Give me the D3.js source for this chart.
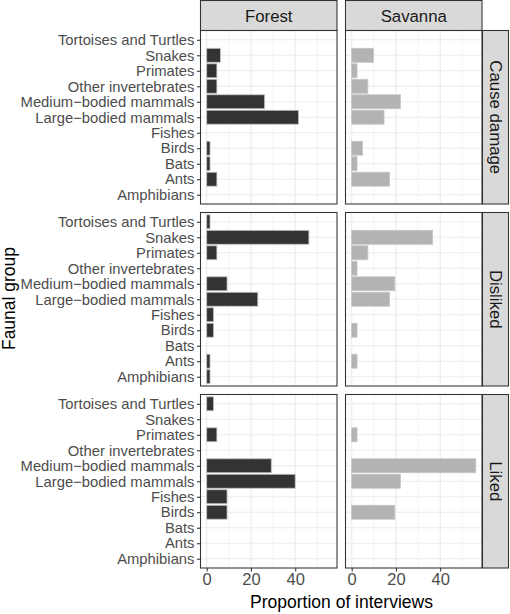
<!DOCTYPE html>
<html><head><meta charset="utf-8">
<script src="https://cdn.jsdelivr.net/npm/d3@7"></script>
<style>body{margin:0;background:#fff}svg{display:block}text{font-family:"Liberation Sans",Arial,sans-serif}</style>
</head><body><svg id="c" width="510" height="614"></svg>
<script>
const categories = ["Tortoises and Turtles","Snakes","Primates","Other invertebrates","Medium\u2212bodied mammals","Large\u2212bodied mammals","Fishes","Birds","Bats","Ants","Amphibians"];
const habitats = ["Forest","Savanna"];
const attitudes = ["Cause damage","Disliked","Liked"];
const xTicks = [0,20,40];
// values in category order above (percent of interviews)
const forestCause   = [0, 6.2, 4.6, 4.6, 26.2, 41.5, 0, 1.5, 1.5, 4.6, 0];
const savannaCause  = [0, 9.8, 2.4, 7.3, 22.0, 14.6, 0, 4.9, 2.4, 17.1, 0];
const forestDislike = [1.5, 46.2, 4.6, 0, 9.2, 23.1, 3.1, 3.1, 0, 1.5, 1.5];
const savannaDislike= [0, 36.6, 7.3, 2.4, 19.5, 17.1, 0, 2.4, 0, 2.4, 0];
const forestLiked   = [3.1, 0, 4.6, 0, 29.2, 40.0, 9.2, 9.2, 0, 0, 0];
const savannaLiked  = [0, 0, 2.4, 0, 56.1, 22.0, 0, 19.5, 0, 0, 0];

const panelData = {
  "Cause damage": {Forest: forestCause, Savanna: savannaCause},
  "Disliked": {Forest: forestDislike, Savanna: savannaDislike},
  "Liked": {Forest: forestLiked, Savanna: savannaLiked}
};
const fills = {Forest:"#333333", Savanna:"#b3b3b3"};

const svg = d3.select("#c");
const colX = {Forest:[200.5,337], Savanna:[345.5,482]};
const rowTop = [30.5, 212.5, 394.5], panelH = 173.5;
const maxV = d3.max(Object.values(panelData).flatMap(o=>[...o.Forest,...o.Savanna]));
const ex = maxV*0.05;

// top strips
habitats.forEach(h=>{
  const [x0,x1]=colX[h];
  svg.append("rect").attr("x",x0).attr("y",0.5).attr("width",x1-x0).attr("height",30)
    .attr("fill","#d9d9d9").attr("stroke","#333333").attr("stroke-width",1.07);
  svg.append("text").attr("x",(x0+x1)/2).attr("y",21.5).attr("text-anchor","middle")
    .attr("font-size",16.8).attr("fill","#1a1a1a").text(h);
});

attitudes.forEach((a,ri)=>{
  const top=rowTop[ri], bot=top+panelH;
  const y = d3.scalePoint().domain(categories).range([top,bot]).padding(0.6);
  const bh = y.step()*0.9;
  habitats.forEach((h,ci)=>{
    const [x0,x1]=colX[h];
    const x = d3.scaleLinear().domain([-ex, maxV+ex]).range([x0,x1]);
    const g = svg.append("g");
    // minor grid
    [10,30,50].forEach(v=>g.append("line").attr("x1",x(v)).attr("x2",x(v)).attr("y1",top).attr("y2",bot)
      .attr("stroke","#ebebeb").attr("stroke-width",0.55));
    xTicks.forEach(v=>g.append("line").attr("x1",x(v)).attr("x2",x(v)).attr("y1",top).attr("y2",bot)
      .attr("stroke","#ebebeb").attr("stroke-width",1.07));
    categories.forEach(c=>g.append("line").attr("x1",x0).attr("x2",x1).attr("y1",y(c)).attr("y2",y(c))
      .attr("stroke","#ebebeb").attr("stroke-width",1.07));
    const vals = panelData[a][h];
    g.selectAll("rect.bar").data(categories.map((c,i)=>({c,v:vals[i]})).filter(d=>d.v>0))
      .join("rect").attr("class","bar")
      .attr("x",x(0)).attr("y",d=>y(d.c)-bh/2)
      .attr("width",d=>x(d.v)-x(0)).attr("height",bh)
      .attr("fill",fills[h]).attr("stroke","#c4c4c4").attr("stroke-width",0.8);
    g.append("rect").attr("x",x0).attr("y",top).attr("width",x1-x0).attr("height",panelH)
      .attr("fill","none").attr("stroke","#333333").attr("stroke-width",1.07);
    if(ci===0){
      const ax = svg.append("g").attr("transform",`translate(${x0},0)`)
        .call(d3.axisLeft(y).tickSize(3.5).tickPadding(2.5));
      ax.select(".domain").remove();
      ax.selectAll(".tick line").attr("stroke","#333333").attr("stroke-width",1.07);
      ax.selectAll(".tick text").attr("font-size",14.8).attr("fill","#4d4d4d")
        .attr("font-family","Liberation Sans, Arial, sans-serif");
    }
    if(ri===2){
      const ax = svg.append("g").attr("transform",`translate(0,${bot})`)
        .call(d3.axisBottom(x).tickValues(xTicks).tickSize(3.5).tickPadding(2));
      ax.select(".domain").remove();
      ax.selectAll(".tick line").attr("stroke","#333333").attr("stroke-width",1.07);
      ax.selectAll(".tick text").attr("font-size",16.5).attr("fill","#4d4d4d")
        .attr("font-family","Liberation Sans, Arial, sans-serif");
    }
  });
  // right strip
  svg.append("rect").attr("x",482.5).attr("y",top).attr("width",26).attr("height",panelH)
    .attr("fill","#d9d9d9").attr("stroke","#333333").attr("stroke-width",1.07);
  svg.append("text").attr("transform",`translate(490,${top+panelH/2}) rotate(90)`)
    .attr("text-anchor","middle").attr("font-size",16.8).attr("fill","#1a1a1a").text(a);
});

svg.append("text").attr("x",341.5).attr("y",608).attr("text-anchor","middle")
  .attr("font-size",17.5).attr("fill","#000").text("Proportion of interviews");
svg.append("text").attr("transform",`translate(15,298.5) rotate(-90)`).attr("text-anchor","middle")
  .attr("font-size",17.5).attr("fill","#000").text("Faunal group");
</script></body></html>
